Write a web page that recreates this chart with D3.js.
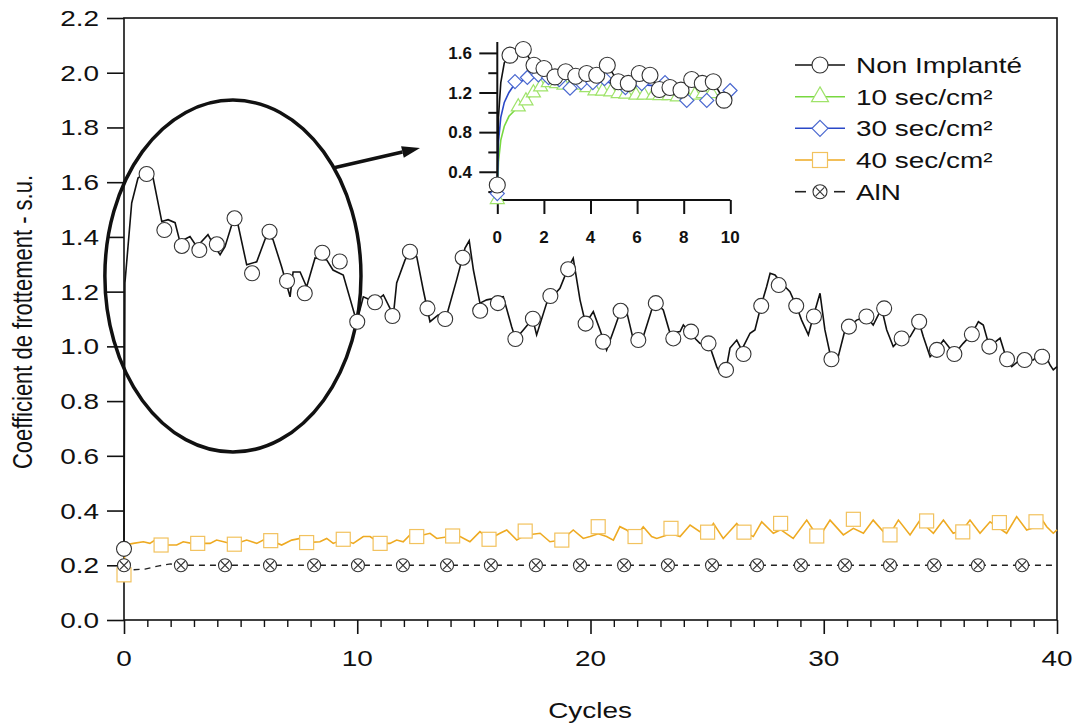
<!DOCTYPE html>
<html><head><meta charset="utf-8">
<script src="https://cdn.jsdelivr.net/npm/d3@7"></script>
<style>body{margin:0;background:#fff}svg{display:block}text{font-family:"Liberation Sans",Arial,sans-serif;fill:#111}</style>
</head><body><svg id="c" width="1077" height="727"></svg>
<script>
// ---------- tick labels ----------
const xTicks = [0, 10, 20, 30, 40];
const yTicks = [0, 0.2, 0.4, 0.6, 0.8, 1.0, 1.2, 1.4, 1.6, 1.8, 2.0, 2.2];
const insetXTicks = [0, 2, 4, 6, 8, 10];
const insetYTicks = [0.4, 0.8, 1.2, 1.6];
const insetYMinor = [0.2, 0.6, 1.0, 1.4];
const legendLabels = ["Non Implanté", "10 sec/cm²", "30 sec/cm²", "40 sec/cm²", "AlN"];
const xTitle = "Cycles";
const yTitle = "Coefficient de frottement - s.u.";

// ---------- Non Implanté (main) ----------
const nonImpLine = [[0,0.27],[0.04,1.232],[0.33,1.524],[0.60,1.615],[0.97,1.637],[1.24,1.619],[1.62,1.456],[1.89,1.463],[2.19,1.452],[2.40,1.382],[2.83,1.401],[3.12,1.364],[3.60,1.408],[3.86,1.368],[4.12,1.335],[4.33,1.364],[4.62,1.444],[4.89,1.444],[5.26,1.298],[5.69,1.309],[6.12,1.408],[6.39,1.390],[6.76,1.290],[7.12,1.181],[7.25,1.272],[7.55,1.272],[7.83,1.217],[8.19,1.323],[8.69,1.316],[8.96,1.279],[9.40,1.261],[9.83,1.133],[9.98,1.089],[10.26,1.181],[10.76,1.162],[11.12,1.188],[11.40,1.140],[11.55,1.115],[11.69,1.232],[12.05,1.316],[12.26,1.346],[12.55,1.328],[12.83,1.206],[13.12,1.090],[13.47,1.115],[13.79,1.100],[14.26,1.243],[14.62,1.359],[14.80,1.386],[14.98,1.279],[15.26,1.158],[15.55,1.170],[16.26,1.182],[16.62,1.072],[16.79,1.027],[17.12,1.060],[17.52,1.101],[17.69,1.042],[18.12,1.158],[18.69,1.212],[19.02,1.282],[19.26,1.322],[19.55,1.170],[19.79,1.083],[20.12,1.127],[20.41,1.060],[20.69,0.987],[21.05,1.072],[21.29,1.130],[21.55,1.127],[21.84,1.023],[22.26,1.035],[22.62,1.133],[22.81,1.158],[23.12,1.133],[23.41,1.048],[23.84,1.054],[23.98,1.078],[24.41,1.035],[24.69,1.011],[25.12,0.999],[25.41,0.926],[25.55,0.902],[25.81,0.914],[25.98,0.994],[26.27,1.023],[26.48,0.987],[26.84,1.048],[27.05,1.060],[27.31,1.148],[27.55,1.218],[27.70,1.267],[27.91,1.261],[28.27,1.224],[28.55,1.200],[28.84,1.145],[29.05,1.096],[29.34,1.042],[29.55,1.109],[29.84,1.194],[30.05,1.060],[30.32,0.953],[30.62,0.962],[30.91,1.060],[31.41,1.096],[31.82,1.109],[32.12,1.078],[32.48,1.139],[32.70,1.060],[32.98,0.999],[33.32,1.030],[33.70,1.035],[34.08,1.090],[34.27,1.035],[34.56,0.962],[34.84,0.987],[35.13,1.023],[35.60,0.972],[35.98,1.011],[36.34,1.044],[36.63,1.090],[36.84,1.078],[37.10,0.999],[37.56,1.030],[37.84,0.953],[38.06,0.926],[38.41,0.950],[38.98,0.950],[39.41,0.987],[39.70,0.932],[39.84,0.914],[40.0,0.926]];
const nonImpMarkers = [[0,0.26],[0.97,1.63],[1.73,1.425],[2.48,1.367],[3.23,1.352],[3.98,1.373],[4.74,1.468],[5.49,1.267],[6.24,1.419],[6.99,1.239],[7.75,1.194],[8.50,1.342],[9.25,1.310],[10.00,1.090],[10.76,1.161],[11.51,1.111],[12.26,1.346],[13.01,1.139],[13.77,1.100],[14.52,1.324],[15.27,1.130],[16.03,1.158],[16.78,1.027],[17.53,1.101],[18.28,1.184],[19.04,1.282],[19.79,1.083],[20.54,1.017],[21.29,1.130],[22.05,1.023],[22.80,1.158],[23.55,1.029],[24.31,1.054],[25.06,1.011],[25.81,0.914],[26.56,0.972],[27.32,1.148],[28.07,1.224],[28.82,1.148],[29.58,1.109],[30.33,0.953],[31.08,1.072],[31.83,1.109],[32.59,1.139],[33.34,1.029],[34.09,1.090],[34.85,0.987],[35.60,0.972],[36.35,1.044],[37.10,0.999],[37.86,0.953],[38.61,0.950],[39.36,0.962]];

// ---------- 40 sec/cm² (main) ----------
const sec40Line = [[0,0.165],[0.04,0.274],[0.40,0.280],[0.83,0.286],[1.11,0.280],[1.33,0.292],[1.59,0.274],[2.26,0.274],[2.54,0.286],[2.90,0.280],[3.16,0.280],[3.69,0.280],[3.97,0.292],[4.40,0.283],[4.73,0.277],[5.26,0.292],[5.69,0.280],[5.97,0.292],[6.29,0.290],[6.76,0.274],[7.19,0.292],[7.55,0.298],[7.83,0.283],[8.40,0.286],[8.69,0.298],[8.97,0.280],[9.40,0.295],[9.83,0.280],[10.26,0.305],[10.55,0.305],[10.98,0.280],[11.40,0.280],[11.69,0.292],[11.97,0.286],[12.26,0.311],[12.55,0.305],[13.12,0.317],[13.41,0.298],[14.09,0.307],[14.41,0.305],[14.83,0.286],[15.26,0.323],[15.65,0.295],[16.12,0.317],[16.41,0.329],[16.84,0.292],[17.20,0.310],[17.84,0.317],[18.26,0.286],[18.77,0.292],[19.26,0.329],[19.69,0.298],[19.98,0.305],[20.33,0.315],[20.69,0.305],[20.98,0.292],[21.26,0.341],[21.55,0.329],[21.91,0.300],[22.26,0.341],[22.62,0.305],[22.84,0.298],[23.45,0.315],[23.84,0.305],[24.27,0.347],[24.69,0.323],[25.02,0.320],[25.27,0.353],[25.69,0.298],[26.27,0.353],[26.58,0.320],[26.98,0.305],[27.34,0.359],[27.84,0.317],[28.15,0.330],[28.69,0.298],[29.27,0.365],[29.70,0.310],[29.91,0.317],[30.27,0.365],[30.84,0.311],[31.27,0.335],[31.70,0.317],[32.12,0.365],[32.55,0.323],[32.84,0.315],[33.20,0.365],[33.70,0.311],[34.13,0.365],[34.41,0.340],[34.70,0.317],[35.13,0.365],[35.55,0.317],[35.96,0.330],[36.27,0.365],[36.70,0.317],[37.13,0.359],[37.53,0.335],[37.84,0.317],[38.27,0.378],[38.70,0.329],[39.10,0.340],[39.27,0.378],[39.56,0.341],[39.84,0.317],[40.0,0.329]];
const sec40Markers = [[0,0.165],[1.59,0.274],[3.16,0.280],[4.73,0.277],[6.29,0.290],[7.83,0.283],[9.40,0.295],[10.98,0.280],[12.55,0.305],[14.09,0.307],[15.65,0.295],[17.20,0.325],[18.77,0.292],[20.33,0.341],[21.91,0.305],[23.45,0.335],[25.02,0.321],[26.58,0.321],[28.15,0.353],[29.70,0.307],[31.27,0.368],[32.84,0.311],[34.41,0.362],[35.96,0.322],[37.53,0.356],[39.10,0.359]];

// ---------- AlN (main) ----------
const alnLine = [[0,0.2],[0.3,0.183],[0.9,0.186],[1.5,0.198],[2.0,0.205],[2.44,0.2],[10.03,0.2],[20,0.2],[30,0.2],[40,0.2]];
const alnMarkers = [[0,0.2],[2.44,0.2],[4.33,0.2],[6.26,0.2],[8.15,0.2],[10.03,0.2],[11.96,0.2],[13.85,0.2],[15.73,0.2],[17.66,0.2],[19.55,0.2],[21.44,0.2],[23.32,0.2],[25.21,0.2],[27.14,0.2],[29.02,0.2],[30.91,0.2],[32.84,0.2],[34.73,0.2],[36.61,0.2],[38.50,0.2]];

// ---------- inset series (0-10 cycles) ----------
const insetNonImpLine = [[0,0.267],[0.05,0.95],[0.15,1.3],[0.3,1.5],[0.545,1.577],[1.116,1.634],[1.575,1.476],[2.004,1.443],[2.476,1.358],[2.936,1.409],[3.365,1.365],[3.837,1.392],[4.266,1.375],[4.721,1.476],[5.193,1.308],[5.622,1.292],[6.094,1.392],[6.554,1.375],[6.953,1.231],[7.412,1.251],[7.884,1.224],[8.343,1.332],[8.798,1.292],[9.270,1.308],[9.730,1.123]];
const insetNonImpMarkers = [[0,0.267],[0.545,1.577],[1.116,1.634],[1.575,1.476],[2.004,1.443],[2.476,1.358],[2.936,1.409],[3.365,1.365],[3.837,1.392],[4.266,1.375],[4.721,1.476],[5.193,1.308],[5.622,1.292],[6.094,1.392],[6.554,1.375],[6.953,1.231],[7.412,1.251],[7.884,1.224],[8.343,1.332],[8.798,1.292],[9.270,1.308],[9.730,1.123]];
const inset10Line = [[0,0.12],[0.05,0.5],[0.15,0.72],[0.3,0.86],[0.5,0.96],[0.9,1.056],[1.23,1.116],[1.55,1.197],[1.86,1.257],[2.19,1.30],[2.55,1.29],[2.86,1.275],[3.19,1.285],[3.52,1.275],[3.84,1.25],[4.19,1.217],[4.52,1.214],[4.87,1.207],[5.19,1.19],[5.52,1.184],[5.95,1.174],[6.30,1.174],[6.70,1.174],[6.98,1.17],[7.38,1.17],[7.73,1.157],[8.13,1.16],[8.48,1.174],[8.84,1.19],[9.20,1.19]];
const inset10Markers = [[0,0.12],[0.9,1.056],[1.23,1.116],[1.55,1.197],[1.86,1.257],[2.19,1.30],[2.55,1.29],[2.86,1.275],[3.19,1.285],[3.52,1.275],[3.84,1.25],[4.19,1.217],[4.52,1.214],[4.87,1.207],[5.19,1.19],[5.52,1.184],[5.95,1.174],[6.30,1.174],[6.70,1.174],[6.98,1.17],[7.38,1.17],[7.73,1.157],[8.13,1.16],[8.48,1.174],[8.84,1.19],[9.20,1.19]];
const inset30Line = [[0,0.18],[0.05,0.7],[0.15,0.95],[0.3,1.1],[0.5,1.2],[0.76,1.29],[1.29,1.34],[1.76,1.37],[2.2,1.35],[2.66,1.33],[3.12,1.26],[3.6,1.3],[4.1,1.3],[4.6,1.33],[5.0,1.27],[5.5,1.25],[6.2,1.28],[6.7,1.27],[7.2,1.28],[7.6,1.22],[8.13,1.13],[8.5,1.15],[8.99,1.13],[9.4,1.17],[9.99,1.22]];
const inset30Markers = [[0,0.18],[0.76,1.31],[1.29,1.352],[1.76,1.378],[2.2,1.35],[2.66,1.33],[3.12,1.244],[3.6,1.3],[4.1,1.3],[4.6,1.34],[5.5,1.25],[6.2,1.29],[7.2,1.3],[8.13,1.12],[8.99,1.12],[9.99,1.22]];

// ---------- colours ----------
const cBlack = "#111", cGreen = "#78d840", cGreenMk = "#9fe36a", cBlue = "#2a48c8", cBlueMk = "#4a68d0", cOrange = "#eeaa22", cOrangeMk = "#f2c25e";
const SX = 1.27; // horizontal stretch of the main text

const svg = d3.select("#c");
const x = d3.scaleLinear([0, 40], [124, 1057]);
const y = d3.scaleLinear([0, 2.2], [620, 18]);
const xi = d3.scaleLinear([0, 10], [497.3, 730.3]);
const yi = d3.scaleLinear([0.115, 1.71], [200, 42]);

function stext(g, px, py, str, size, anchor, extra) {
  return g.append("text").attr("transform", `translate(${px},${py}) ${extra || `scale(${SX},1)`}`)
    .attr("text-anchor", anchor).style("font-size", size + "px").text(str);
}

// ---------- main axes ----------
const ax = svg.append("g");
ax.append("rect").attr("x", x(0)).attr("y", y(2.2)).attr("width", x(40) - x(0)).attr("height", y(0) - y(2.2))
  .attr("fill", "none").attr("stroke", "#111").attr("stroke-width", 1.6);
const xAxis = d3.axisBottom(x).tickValues(xTicks).tickSize(14).tickFormat("");
ax.append("g").attr("transform", `translate(0,${y(0)})`).call(xAxis)
  .call(g => { g.select(".domain").remove(); g.selectAll("line").attr("stroke", "#111").attr("stroke-width", 1.6); });
const xMinor = d3.axisBottom(x).tickValues(d3.range(0, 41).filter(v => v % 10 !== 0)).tickSize(7).tickFormat("");
ax.append("g").attr("transform", `translate(0,${y(0)})`).call(xMinor)
  .call(g => { g.select(".domain").remove(); g.selectAll("line").attr("stroke", "#111").attr("stroke-width", 1.4); });
const yAxis = d3.axisLeft(y).tickValues(yTicks).tickSize(17).tickFormat("");
ax.append("g").attr("transform", `translate(${x(0)},0)`).call(yAxis)
  .call(g => { g.select(".domain").remove(); g.selectAll("line").attr("stroke", "#111").attr("stroke-width", 1.6); });
xTicks.forEach(v => stext(ax, x(v), 666, String(v), 22, "middle"));
yTicks.forEach(v => stext(ax, 99, y(v) + 8, d3.format(".1f")(v), 22, "end"));
stext(ax, 590, 718, xTitle, 22, "middle");
stext(ax, 32, 322, yTitle, 22, "middle", `rotate(-90) scale(1,${SX})`);

// ---------- annotation ellipse + arrow ----------
const ann = svg.append("g");
ann.append("ellipse").attr("cx", x(4.67)).attr("cy", y(1.257)).attr("rx", x(5.49) - x(0)).attr("ry", y(0) - y(0.643))
  .attr("fill", "none").attr("stroke", "#111").attr("stroke-width", 3.5);
const a0 = [x(8.96), y(1.652)], a1 = [x(12.69), y(1.725)];
const ang = Math.atan2(a1[1] - a0[1], a1[0] - a0[0]);
const hl = 18, hw = 6;
const base = [a1[0] - hl * Math.cos(ang), a1[1] - hl * Math.sin(ang)];
ann.append("line").attr("x1", a0[0]).attr("y1", a0[1]).attr("x2", base[0]).attr("y2", base[1]).attr("stroke", "#111").attr("stroke-width", 3.5);
ann.append("path").attr("d", `M${a1[0]},${a1[1]}L${base[0] - hw * Math.sin(ang)},${base[1] + hw * Math.cos(ang)}L${base[0] + hw * Math.sin(ang)},${base[1] - hw * Math.cos(ang)}Z`).attr("fill", "#111");

// ---------- marker helpers ----------
function circ(g, cx, cy, r) { g.append("circle").attr("cx", cx).attr("cy", cy).attr("r", r).attr("fill", "#fff").attr("stroke", "#333").attr("stroke-width", 1.1); }
function sq(g, cx, cy, s, col) { g.append("rect").attr("x", cx - s / 2).attr("y", cy - s / 2).attr("width", s).attr("height", s).attr("fill", "#fff").attr("stroke", col).attr("stroke-width", 1.2); }
function tri(g, cx, cy, s, col) { const h = s * Math.sqrt(3) / 2; g.append("path").attr("d", `M${cx},${cy - h * 2 / 3}L${cx + s / 2},${cy + h / 3}L${cx - s / 2},${cy + h / 3}Z`).attr("fill", "#fff").attr("stroke", col).attr("stroke-width", 1.2); }
function dia(g, cx, cy, s, col) { g.append("path").attr("d", `M${cx},${cy - s}L${cx + s},${cy}L${cx},${cy + s}L${cx - s},${cy}Z`).attr("fill", "#fff").attr("stroke", col).attr("stroke-width", 1.2); }
function otimes(g, cx, cy, r) { circ(g, cx, cy, r); const d = r * 0.62; g.append("path").attr("d", `M${cx - d},${cy - d}L${cx + d},${cy + d}M${cx - d},${cy + d}L${cx + d},${cy - d}`).attr("stroke", "#333").attr("stroke-width", 1.1); }

// ---------- main series ----------
const main = svg.append("g");
const lm = d3.line().x(d => x(d[0])).y(d => y(d[1]));
main.append("path").attr("d", lm(alnLine)).attr("fill", "none").attr("stroke", "#222").attr("stroke-width", 1.4).attr("stroke-dasharray", "6,5");
main.append("path").attr("d", lm(sec40Line)).attr("fill", "none").attr("stroke", cOrange).attr("stroke-width", 1.6);
main.append("path").attr("d", lm(nonImpLine)).attr("fill", "none").attr("stroke", cBlack).attr("stroke-width", 1.6);
sec40Markers.forEach(d => sq(main, x(d[0]), y(d[1]), 14, cOrangeMk));
alnMarkers.forEach(d => otimes(main, x(d[0]), y(d[1]), 6.5));
nonImpMarkers.forEach(d => circ(main, x(d[0]), y(d[1]), 7.5));

// ---------- inset ----------
const ins = svg.append("g");
ins.append("line").attr("x1", xi(0)).attr("x2", xi(10)).attr("y1", yi(0.115)).attr("y2", yi(0.115)).attr("stroke", "#111").attr("stroke-width", 2);
ins.append("line").attr("x1", xi(0)).attr("x2", xi(0)).attr("y1", yi(0.115)).attr("y2", yi(1.71)).attr("stroke", "#111").attr("stroke-width", 2);
ins.append("g").attr("transform", `translate(0,${yi(0.115)})`).call(d3.axisBottom(xi).tickValues(insetXTicks).tickSize(14).tickFormat(""))
  .call(g => { g.select(".domain").remove(); g.selectAll("line").attr("stroke", "#111").attr("stroke-width", 2); });
ins.append("g").attr("transform", `translate(${xi(0)},0)`).call(d3.axisLeft(yi).tickValues(insetYTicks).tickSize(18).tickFormat(""))
  .call(g => { g.select(".domain").remove(); g.selectAll("line").attr("stroke", "#111").attr("stroke-width", 2); });
ins.append("g").attr("transform", `translate(${xi(0)},0)`).call(d3.axisLeft(yi).tickValues(insetYMinor).tickSize(9).tickFormat(""))
  .call(g => { g.select(".domain").remove(); g.selectAll("line").attr("stroke", "#111").attr("stroke-width", 2); });
insetXTicks.forEach(v => ins.append("text").attr("x", xi(v)).attr("y", 243).attr("text-anchor", "middle").style("font-size", "17px").style("font-weight", "bold").text(v));
insetYTicks.forEach(v => ins.append("text").attr("x", 472).attr("y", yi(v) + 6).attr("text-anchor", "end").style("font-size", "17px").style("font-weight", "bold").text(d3.format(".1f")(v)));
const li = d3.line().x(d => xi(d[0])).y(d => yi(d[1]));
ins.append("path").attr("d", li(inset10Line)).attr("fill", "none").attr("stroke", cGreen).attr("stroke-width", 1.6);
ins.append("path").attr("d", li(inset30Line)).attr("fill", "none").attr("stroke", cBlue).attr("stroke-width", 1.6);
inset10Markers.forEach(d => tri(ins, xi(d[0]), yi(d[1]), 14, cGreenMk));
inset30Markers.forEach(d => dia(ins, xi(d[0]), yi(d[1]), 7, cBlueMk));
ins.append("path").attr("d", li(insetNonImpLine)).attr("fill", "none").attr("stroke", cBlack).attr("stroke-width", 1.6);
insetNonImpMarkers.forEach(d => circ(ins, xi(d[0]), yi(d[1]), 8));

// ---------- legend ----------
const lg = svg.append("g");
const rowY = [65, 96.7, 128.3, 160, 191.7];
const lineCols = [cBlack, cGreen, cBlue, cOrange, "#222"];
legendLabels.forEach((lab, i) => {
  const yy = rowY[i];
  if (i < 4) lg.append("line").attr("x1", 795).attr("x2", 845).attr("y1", yy).attr("y2", yy).attr("stroke", lineCols[i]).attr("stroke-width", 1.6);
  else { lg.append("line").attr("x1", 795).attr("x2", 806).attr("y1", yy).attr("y2", yy).attr("stroke", "#222").attr("stroke-width", 1.6);
         lg.append("line").attr("x1", 834).attr("x2", 845).attr("y1", yy).attr("y2", yy).attr("stroke", "#222").attr("stroke-width", 1.6); }
  if (i === 0) circ(lg, 820, yy, 8);
  if (i === 1) tri(lg, 820, yy, 17, cGreenMk);
  if (i === 2) dia(lg, 820, yy, 8, cBlueMk);
  if (i === 3) sq(lg, 820, yy, 15, cOrangeMk);
  if (i === 4) otimes(lg, 820, yy, 7);
  stext(lg, 856, yy + 8, lab, 22, "start");
});
</script></body></html>
